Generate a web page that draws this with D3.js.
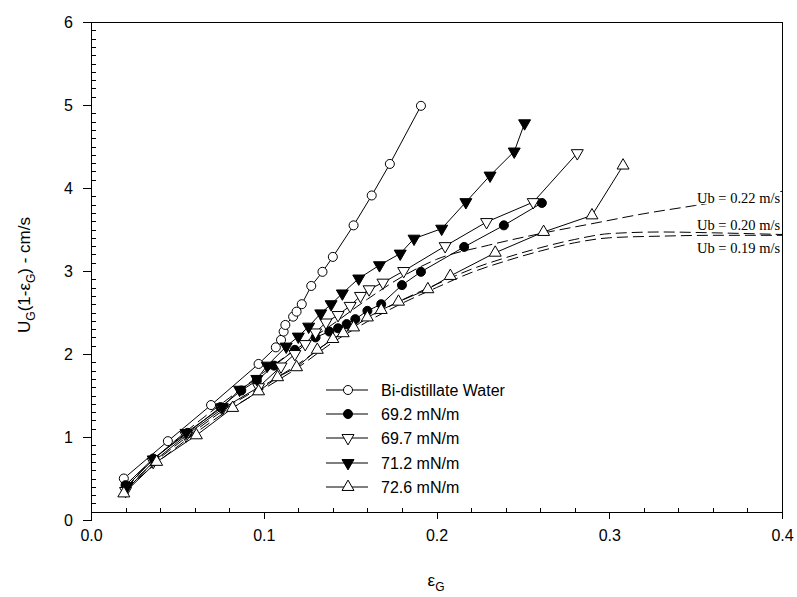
<!DOCTYPE html>
<html>
<head>
<meta charset="utf-8">
<script src="https://cdn.jsdelivr.net/npm/d3@7"></script>
<style>
  body { margin: 0; background: #fff; }
  text { font-family: Arial, "Liberation Sans", sans-serif; fill: #000; }
  .axis path, .axis line { stroke: #000; stroke-width: 1; shape-rendering: crispEdges; }
  .axis text { font-size: 16px; font-family: Arial, "Liberation Sans", sans-serif; }
  text.ub-label { font-family: "Liberation Serif", "Times New Roman", serif; }
</style>
</head>
<body>
<svg id="chart" width="797" height="597"></svg>
<script>
// tick values
const xTicks = [0, 0.1, 0.2, 0.3, 0.4];
const yTicks = [0, 1, 2, 3, 4, 5, 6];

// series labels (legend order)
const seriesNames = ['Bi-distillate Water', '69.2 mN/m', '69.7 mN/m', '71.2 mN/m', '72.6 mN/m'];

// [eG, UG(1-eG)]
const water = [
  [0.019, 0.50], [0.0445, 0.95], [0.0695, 1.385], [0.097, 1.88], [0.107, 2.08],
  [0.110, 2.17], [0.1115, 2.27], [0.1125, 2.35], [0.117, 2.45], [0.119, 2.51],
  [0.122, 2.60], [0.1275, 2.82], [0.134, 2.99], [0.140, 3.17], [0.152, 3.55],
  [0.1625, 3.91], [0.173, 4.29], [0.191, 4.99]
];
const st692 = [
  [0.020, 0.42], [0.036, 0.74], [0.056, 1.05], [0.075, 1.36], [0.087, 1.56],
  [0.096, 1.68], [0.106, 1.86], [0.118, 2.05], [0.130, 2.20], [0.138, 2.27],
  [0.143, 2.31], [0.148, 2.36], [0.153, 2.42], [0.160, 2.52], [0.168, 2.60],
  [0.180, 2.83], [0.191, 2.99], [0.216, 3.29], [0.239, 3.55], [0.261, 3.82]
];
const st697 = [
  [0.020, 0.35], [0.036, 0.70], [0.055, 1.02], [0.076, 1.34], [0.097, 1.60],
  [0.110, 1.85], [0.118, 2.00], [0.124, 2.12], [0.130, 2.26], [0.136, 2.38],
  [0.143, 2.47], [0.150, 2.58], [0.156, 2.70], [0.161, 2.78], [0.169, 2.86],
  [0.181, 3.00], [0.205, 3.30], [0.229, 3.59], [0.256, 3.83], [0.2815, 4.42]
];
const st712 = [
  [0.021, 0.41], [0.036, 0.73], [0.055, 1.05], [0.076, 1.36], [0.086, 1.57],
  [0.096, 1.70], [0.102, 1.86], [0.113, 2.09], [0.120, 2.21], [0.126, 2.33],
  [0.133, 2.49], [0.139, 2.60], [0.1455, 2.73], [0.155, 2.91], [0.167, 3.07],
  [0.179, 3.21], [0.187, 3.39], [0.203, 3.51], [0.217, 3.83], [0.231, 4.15],
  [0.245, 4.44], [0.251, 4.78]
];
const st726 = [
  [0.019, 0.32], [0.038, 0.70], [0.061, 1.02], [0.082, 1.35], [0.097, 1.55],
  [0.108, 1.72], [0.119, 1.84], [0.131, 2.05], [0.140, 2.18], [0.146, 2.25],
  [0.152, 2.32], [0.160, 2.44], [0.168, 2.53], [0.178, 2.63], [0.195, 2.78],
  [0.208, 2.94], [0.234, 3.22], [0.262, 3.47], [0.290, 3.67], [0.308, 4.27]
];

// dashed model curves
const ubNames = ['Ub = 0.22 m/s', 'Ub = 0.20 m/s', 'Ub = 0.19 m/s'];
const ub22 = [
  [0.02, 0.42], [0.04, 0.80], [0.06, 1.15], [0.08, 1.47], [0.10, 1.78], [0.12, 2.08],
  [0.14, 2.36], [0.16, 2.66], [0.18, 2.93], [0.20, 3.14], [0.23, 3.31], [0.26, 3.45],
  [0.29, 3.57], [0.32, 3.69], [0.35, 3.79], [0.38, 3.89], [0.40, 3.96]
];
const ub20 = [
  [0.02, 0.39], [0.04, 0.75], [0.06, 1.07], [0.08, 1.37], [0.10, 1.62], [0.12, 1.88],
  [0.14, 2.18], [0.16, 2.43], [0.18, 2.65], [0.20, 2.84], [0.22, 3.02], [0.24, 3.16],
  [0.26, 3.28], [0.28, 3.38], [0.30, 3.45], [0.33, 3.47], [0.36, 3.46], [0.40, 3.44]
];
const ub19 = [
  [0.02, 0.37], [0.04, 0.72], [0.06, 1.04], [0.08, 1.33], [0.10, 1.58], [0.12, 1.84],
  [0.14, 2.14], [0.16, 2.39], [0.18, 2.61], [0.20, 2.80], [0.22, 2.98], [0.24, 3.12],
  [0.26, 3.24], [0.28, 3.34], [0.30, 3.40], [0.33, 3.42], [0.36, 3.43], [0.40, 3.43]
];

function renderChart() {
  const svg = d3.select('#chart');

  // 1- scales
  const x = d3.scaleLinear().domain([0, 0.4]).range([91, 782]);
  const y = d3.scaleLinear().domain([0, 6]).range([520, 22]);
  const xAxisY = y(0.1); // x axis sits a little above zero, like the source

  // 2- frame (top and right)
  svg.append('line').attr('x1', x(0)).attr('x2', x(0.4)).attr('y1', y(6)).attr('y2', y(6))
    .attr('stroke', '#000').attr('shape-rendering', 'crispEdges');
  svg.append('line').attr('x1', x(0.4)).attr('x2', x(0.4)).attr('y1', y(6)).attr('y2', xAxisY)
    .attr('stroke', '#000').attr('shape-rendering', 'crispEdges');

  // 3- axes
  const yMinor = d3.range(1, 60).filter(d => d % 10 !== 0).map(d => d / 10);
  const xMinor = d3.range(1, 20).filter(d => d % 5 !== 0).map(d => d / 50);

  svg.append('g').attr('class', 'axis')
    .attr('transform', `translate(${x(0)},0)`)
    .call(d3.axisLeft(y).tickValues(yTicks).tickFormat(d3.format('d'))
      .tickSize(8).tickSizeOuter(0).tickPadding(10));
  svg.append('g').attr('class', 'axis')
    .attr('transform', `translate(${x(0)},0)`)
    .call(d3.axisLeft(y).tickValues(yMinor).tickFormat('').tickSize(-5))
    .call(g => g.select('.domain').remove());

  svg.append('g').attr('class', 'axis')
    .attr('transform', `translate(0,${xAxisY})`)
    .call(d3.axisBottom(x).tickValues(xTicks).tickFormat(d3.format('.1f'))
      .tickSize(7).tickSizeOuter(0).tickPadding(11));
  svg.append('g').attr('class', 'axis')
    .attr('transform', `translate(0,${xAxisY})`)
    .call(d3.axisBottom(x).tickValues(xMinor).tickFormat('').tickSize(-4))
    .call(g => g.select('.domain').remove());

  // 4- axis titles
  const yTitle = svg.append('text')
    .attr('transform', 'translate(30,275) rotate(-90)')
    .attr('text-anchor', 'middle')
    .attr('font-size', 17);
  yTitle.append('tspan').text('U');
  yTitle.append('tspan').attr('font-size', 12).attr('dy', 5).text('G');
  yTitle.append('tspan').attr('dy', -5).text('(1-\u03b5');
  yTitle.append('tspan').attr('font-size', 12).attr('dy', 5).text('G');
  yTitle.append('tspan').attr('dy', -5).text(') - cm/s');

  const xTitle = svg.append('text')
    .attr('x', 436).attr('y', 586)
    .attr('text-anchor', 'middle')
    .attr('font-size', 17);
  xTitle.append('tspan').text('\u03b5');
  xTitle.append('tspan').attr('font-size', 12).attr('dy', 5).text('G');

  // 5- dashed model curves with labels (labels knock out the line behind them)
  const line = d3.line().x(d => x(d[0])).y(d => y(d[1])).curve(d3.curveMonotoneX);
  [ub22, ub20, ub19].forEach(curve => {
    svg.append('path')
      .attr('d', line(curve))
      .attr('fill', 'none')
      .attr('stroke', '#000')
      .attr('stroke-width', 1)
      .attr('stroke-dasharray', '11,5');
  });
  const ubLabelY = [198, 225, 248];
  ubNames.forEach((name, i) => {
    const label = svg.append('text')
      .attr('class', 'ub-label')
      .attr('x', 697).attr('y', ubLabelY[i])
      .attr('dy', '0.35em')
      .attr('font-size', 14.5)
      .text(name);
    const box = label.node().getBBox();
    svg.insert('rect', '.ub-label')
      .attr('x', box.x).attr('y', box.y + 2)
      .attr('width', box.width).attr('height', box.height - 4)
      .attr('fill', '#fff');
  });

  // 6- data series
  const series = [water, st692, st697, st712, st726];
  const shapes = [
    { type: d3.symbolCircle, fill: '#fff', rot: 0, size: 64 },
    { type: d3.symbolCircle, fill: '#000', rot: 0, size: 64 },
    { type: d3.symbolTriangle, fill: '#fff', rot: 180, size: 62 },
    { type: d3.symbolTriangle, fill: '#000', rot: 180, size: 62 },
    { type: d3.symbolTriangle, fill: '#fff', rot: 0, size: 62 }
  ];
  const straight = d3.line().x(d => x(d[0])).y(d => y(d[1]));

  series.forEach((pts, i) => {
    const s = shapes[i];
    svg.append('path')
      .attr('d', straight(pts))
      .attr('fill', 'none')
      .attr('stroke', '#000')
      .attr('stroke-width', 1);
    svg.append('g').selectAll('path')
      .data(pts)
      .join('path')
      .attr('d', d3.symbol().type(s.type).size(s.size))
      .attr('transform', d => `translate(${x(d[0])},${y(d[1])}) rotate(${s.rot})`)
      .attr('fill', s.fill)
      .attr('stroke', '#000')
      .attr('stroke-width', 1);
  });

  // 7- legend
  const legendY = [390, 414, 438, 463, 487];
  seriesNames.forEach((name, i) => {
    const s = shapes[i];
    const row = svg.append('g').attr('transform', `translate(0,${legendY[i]})`);
    row.append('line').attr('x1', 326).attr('x2', 368).attr('y1', 0).attr('y2', 0)
      .attr('stroke', '#000');
    row.append('path')
      .attr('d', d3.symbol().type(s.type).size(s.size))
      .attr('transform', `translate(348,0) rotate(${s.rot})`)
      .attr('fill', s.fill)
      .attr('stroke', '#000');
    row.append('text')
      .attr('x', 381).attr('y', 0).attr('dy', '0.35em')
      .attr('font-size', 16)
      .text(name);
  });
}

document.addEventListener('DOMContentLoaded', renderChart);
</script>
</body>
</html>
